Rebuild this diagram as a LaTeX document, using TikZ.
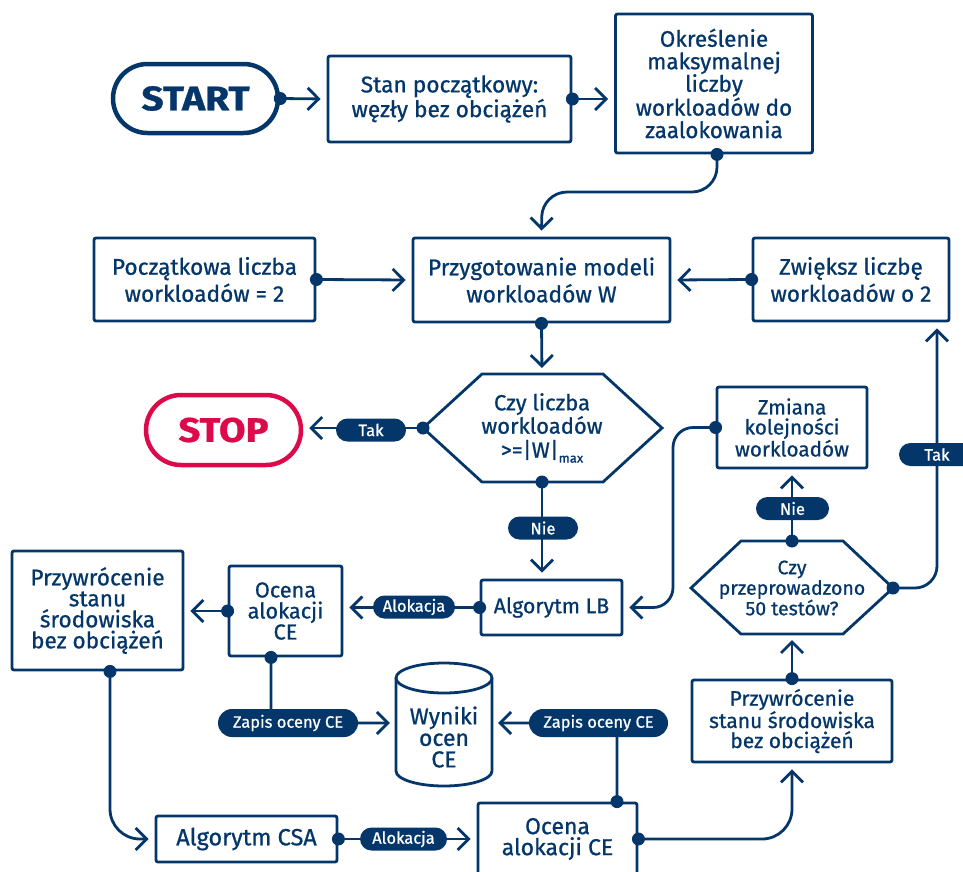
\documentclass[tikz,border=0pt]{standalone}
\usepackage{fontspec}
\setmainfont{Fira Sans}[FakeBold=0.8]
\usetikzlibrary{arrows.meta,shapes.misc}
\definecolor{navy}{HTML}{04366A}
\definecolor{stopred}{HTML}{DC0A4B}
\newcommand{\fsz}[2]{\fontsize{#1}{#2}\selectfont}
\newcommand{\pillfont}{\fontsize{16.5}{18}\selectfont}
\newcommand{\termfont}{\fontsize{34}{36}\selectfont\bfseries}
\begin{document}
\begin{tikzpicture}[x=1pt,y=-1pt,
  box/.style={draw=navy, line width=2.8pt, rounded corners=2pt, align=center, text=navy, inner sep=0pt},
  term/.style={rounded rectangle, draw=navy, line width=4.5pt, text=navy, font=\termfont, inner sep=0pt},
  pill/.style={rounded rectangle, fill=navy, text=white, font=\pillfont, inner sep=0pt, minimum height=23pt},
  conn/.style={draw=navy, line width=2.8pt},
  arr/.style={conn, -{Straight Barb[length=11pt,width=22pt]}, shorten >=6pt},
  hexline/.style={draw=navy, line width=2.8pt, line join=miter},
  plain/.style={align=center, text=navy, inner sep=0pt}
  ]
\useasboundingbox (0,0) rectangle (963,871);

% ---------- nodes ----------
\node[term, minimum width=165pt, minimum height=69pt] (start) at (195.5,98.5) {\scalebox{1.15}[1]{START}};
\node[box, font=\fsz{22.7}{22.3}, minimum width=243pt, minimum height=86pt] (stan) at (449.5,99) {Stan początkowy:\\węzły bez obciążeń};
\node[box, font=\fsz{22.5}{22.5}, minimum width=197pt, minimum height=139pt] (okr) at (714,83.5) {Określenie\\maksymalnej\\liczby\\workloadów do\\zaalokowania};
\node[box, font=\fsz{22.8}{27}, minimum width=257pt, minimum height=84pt] (przyg) at (541.5,280) {Przygotowanie modeli\\workloadów W};
\node[box, font=\fsz{22.7}{27}, minimum width=221pt, minimum height=83pt] (pocz) at (204.5,279.5) {Początkowa liczba\\workloadów = 2};
\node[box, font=\fsz{22.6}{27}, minimum width=196pt, minimum height=83pt] (zw) at (851,279.5) {Zwiększ liczbę\\workloadów o 2};
\node[term, draw=stopred, text=stopred, minimum width=155pt, minimum height=70pt] (stop) at (223.5,430) {\scalebox{1.13}[1]{STOP}};

% decision 1
\draw[hexline] (423,428) -- (482,374) -- (603,374) -- (662,428) -- (603,482) -- (482,482) -- cycle;
\node[plain, font=\fsz{22}{22}] (q1) at (542,428) {Czy liczba\\workloadów\\[2pt]{>=|W|\raisebox{-5pt}{\fontsize{13}{13}\selectfont max}}};
\coordinate (q1w) at (423,428);
\coordinate (q1s) at (542,482);
\coordinate (q1n) at (542,374);

\node[box, font=\fsz{20.7}{20}, minimum width=150pt, minimum height=81pt] (zm) at (792,427.5) {Zmiana\\kolejności\\workloadów};
\node[box, font=\fsz{21.3}{22}, minimum width=141pt, minimum height=55pt] (lb) at (551.5,607.5) {Algorytm LB};

% decision 2
\draw[hexline] (691,588) -- (741,541) -- (843,541) -- (893,588) -- (843,634) -- (741,634) -- cycle;
\node[plain, font=\fsz{19.5}{20.5}] (q2) at (792,588) {Czy\\przeprowadzono\\50 testów?};
\coordinate (q2n) at (792,541);
\coordinate (q2s) at (792,634);
\coordinate (q2e) at (893,588);

\node[box, font=\fsz{21.7}{21}, minimum width=113pt, minimum height=90pt] (oc1) at (285.5,611) {Ocena\\alokacji\\CE};
\node[box, font=\fsz{22.6}{21}, minimum width=171pt, minimum height=119pt] (pr1) at (97.5,610.5) {Przywrócenie\\stanu\\środowiska\\bez obciążeń};
\node[box, font=\fsz{23.5}{24}, minimum width=181pt, minimum height=46pt] (csa) at (246.5,839) {Algorytm CSA};
\node[box, font=\fsz{23}{21}, minimum width=159pt, minimum height=72pt] (oc2) at (557.5,839) {Ocena\\alokacji CE};
\node[box, font=\fsz{21}{20}, minimum width=200pt, minimum height=82pt] (pr2) at (792,721) {Przywrócenie\\stanu środowiska\\bez obciążeń};

% database
\draw[conn] (444,678) ellipse [x radius=48pt, y radius=15pt];
\draw[conn] (396,678) -- (396,771) arc[start angle=180, end angle=360, x radius=48pt, y radius=15pt] -- (492,678);
\node[plain, font=\fsz{23}{21.5}, minimum width=96pt, minimum height=90pt] (wyn) at (444,737) {Wyniki\\ocen\\CE};

% ---------- helper coordinates ----------
\coordinate (okrS) at ([xshift=3pt]okr.south);
\coordinate (k1) at (542,192);
\coordinate (oc1S) at ([xshift=-14.5pt]oc1.south);
\coordinate (pr1S) at ([xshift=12.5pt]pr1.south);
\coordinate (oc2N) at ([xshift=59.5pt]oc2.north);
\coordinate (wynW) at ([yshift=14pt]wyn.west);
\coordinate (wynE) at ([yshift=14pt]wyn.east);
\coordinate (k2) at (673,607.5);
\coordinate (k4) at (937,588);

% ---------- connectors ----------
\draw[arr] (start.east) -- (stan.west);
\draw[arr] (stan.east) -- (stan.east -| okr.west);
\draw[arr, rounded corners=25pt] (okrS) |- (k1) -- (przyg.north);
\draw[arr] (pocz.east) -- (przyg.west);
\draw[arr] (zw.west) -- (przyg.east);
\draw[arr] (przyg.south) -- (q1n);
\draw[arr] (q1w) -- (q1w -| stop.east);
\draw[arr] (q1s) -- (q1s |- lb.north);
\draw[arr] (lb.west) -- (lb.west -| oc1.east);
\draw[arr] (oc1.west) -- (oc1.west -| pr1.east);
\draw[arr, rounded corners=12pt] (oc1S) |- (wynW);
\draw[arr, rounded corners=30pt] (pr1S) |- (csa.west);
\draw[arr] (csa.east) -- (csa.east -| oc2.west);
\draw[arr, rounded corners=12pt] (oc2N) |- (wynE);
\draw[arr, rounded corners=30pt] (oc2.east) -| (pr2.south);
\draw[arr] (pr2.north) -- (q2s);
\draw[arr] (q2n) -- (q2n |- zm.south);
\draw[arr, rounded corners=20pt] (zm.west) -| (k2) -- (lb.east);
\draw[arr, rounded corners=22pt] (q2e) -- (k4) -- (k4 |- zw.south);

% ---------- dots ----------
\foreach \p in {start.east, stan.east, okrS, pocz.east, zw.west, przyg.south, q1w, q1s, lb.west, oc1.west, oc1S, pr1S, csa.east, oc2N, oc2.east, pr2.north, q2n, zm.west, q2e}
  \fill[navy] (\p) circle (6.5pt);

% ---------- labels ----------
\node[pill, minimum width=70pt] (tak1) at (371,430) {Tak};
\node[pill, minimum width=70pt] (nie1) at (543,528) {Nie};
\node[pill, minimum width=82pt] (alok1) at (414,607) {Alokacja};
\node[pill, minimum width=140pt, minimum height=28pt] (zap1) at (288,723) {Zapis oceny CE};
\node[pill, minimum width=87pt] (alok2) at (403.5,839) {Alokacja};
\node[pill, minimum width=139pt, minimum height=28pt] (zap2) at (598.5,723) {Zapis oceny CE};
\node[pill, minimum width=73pt] (nie2) at (792.5,508.5) {Nie};
\node[pill, minimum width=76pt] (tak2) at (937,454.5) {Tak};
\end{tikzpicture}
\end{document}
